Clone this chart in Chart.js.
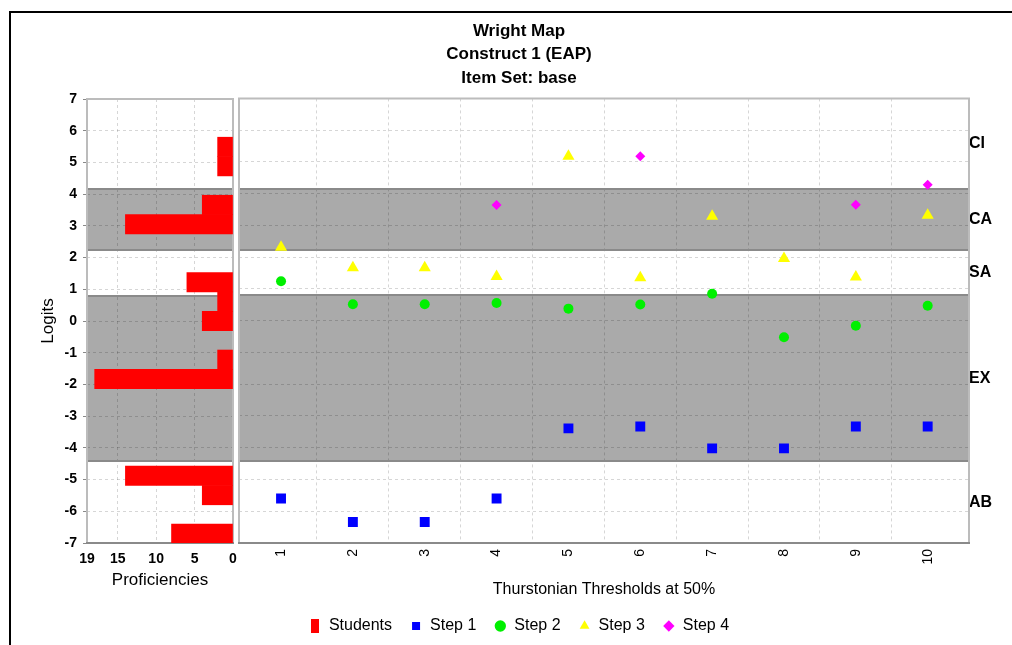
<!DOCTYPE html>
<html>
<head>
<meta charset="utf-8">
<script src="https://cdn.jsdelivr.net/npm/chart.js@4"></script>
<style>
  html, body { margin: 0; padding: 0; background: #fff; overflow: hidden; }
  #wrap { position: relative; width: 1012px; height: 645px; overflow: hidden; }
  #frame { position: absolute; left: 9px; top: 11px; width: 1100px; height: 700px;
           border-left: 2px solid #000; border-top: 2px solid #000; }
  canvas { position: absolute; left: 0; top: 0; }
</style>
</head>
<body>
<div id="wrap">
  <div id="frame"></div>
  <canvas id="mapChart" width="1012" height="645"></canvas>
  <canvas id="histChart" width="1012" height="645"></canvas>
</div>
<script>
// thresholds per item (logits)
const items = [1, 2, 3, 4, 5, 6, 7, 8, 9, 10];
const step1 = [-5.60, -6.34, -6.34, -5.60, -3.39, -3.33, -4.02, -4.02, -3.33, -3.33];
const step2 = [1.24, 0.52, 0.52, 0.56, 0.38, 0.51, 0.85, -0.52, -0.16, 0.47];
const step3 = [2.31, 1.67, 1.67, 1.39, 5.18, 1.35, 3.29, 1.96, 1.38, 3.32];
const step4 = [null, null, null, 3.64, null, 5.18, null, null, 3.65, 4.28];

// student proficiency histogram
const binCenters = [5.49, 4.88, 3.66, 3.05, 1.22, 0.61, 0.00, -1.22, -1.83, -4.88, -5.49, -6.71];
const binCounts = [2, 2, 4, 14, 6, 2, 4, 2, 18, 14, 4, 8];
const proficiencyTicks = [0, 5, 10, 15, 19];

// construct bands, top to bottom
const bandEdges = [7, 4.16, 2.23, 0.80, -4.43, -7];
const bandNames = ['CI', 'CA', 'SA', 'EX', 'AB'];

const titleLines = ['Wright Map', 'Construct 1 (EAP)', 'Item Set: base'];

Chart.defaults.font.family = "'Liberation Sans', Arial, sans-serif";
Chart.defaults.color = '#000';

const gridColor = 'rgba(0,0,0,0.16)';

const bandsPlugin = {
  id: 'bands',
  beforeDraw(chart) {
    const {ctx, chartArea: a} = chart;
    const y = chart.scales.y;
    ctx.save();
    ctx.fillStyle = '#aaaaaa';
    bandNames.forEach((n, i) => {
      if (i % 2 === 0) return;
      const top = y.getPixelForValue(bandEdges[i]);
      const bottom = y.getPixelForValue(bandEdges[i + 1]);
      ctx.fillRect(a.left, top, a.width, bottom - top);
    });
    ctx.restore();
  },
  beforeDatasetsDraw(chart) {
    const {ctx, chartArea: a} = chart;
    const y = chart.scales.y;
    ctx.save();
    ctx.lineWidth = 2;
    ctx.strokeStyle = '#8a8a8a';
    bandEdges.slice(1, -1).forEach(v => {
      const py = Math.round(y.getPixelForValue(v));
      ctx.beginPath();
      ctx.moveTo(a.left, py);
      ctx.lineTo(a.right, py);
      ctx.stroke();
    });
    ctx.strokeStyle = '#bcbcbc';
    ctx.beginPath();
    ctx.moveTo(a.left, a.bottom);
    ctx.lineTo(a.left, a.top);
    ctx.lineTo(a.right, a.top);
    ctx.lineTo(a.right, a.bottom);
    ctx.stroke();
    ctx.strokeStyle = '#8a8a8a';
    ctx.beginPath();
    ctx.moveTo(a.left - 1, a.bottom);
    ctx.lineTo(a.right + 1, a.bottom);
    ctx.stroke();
    ctx.restore();
  }
};

const points = arr => items
  .map((it, i) => ({x: it, y: arr[i]}))
  .filter(p => p.y !== null);

// tall red box for the Students legend entry
const studentIcon = document.createElement('canvas');
studentIcon.width = 8;
studentIcon.height = 14;
studentIcon.getContext('2d').fillStyle = '#ff0000';
studentIcon.getContext('2d').fillRect(0, 0, 8, 14);

new Chart(document.getElementById('mapChart'), {
  type: 'scatter',
  data: {
    datasets: [
      {label: 'Step 1', data: points(step1), yAxisID: 'y', pointStyle: 'rect', radius: 7,
       backgroundColor: '#0000ff', borderWidth: 0},
      {label: 'Step 2', data: points(step2), yAxisID: 'y', pointStyle: 'circle', radius: 5,
       backgroundColor: '#00f000', borderWidth: 0},
      {label: 'Step 3', data: points(step3), yAxisID: 'y', pointStyle: 'triangle', radius: 7,
       backgroundColor: '#ffff00', borderWidth: 0},
      {label: 'Step 4', data: points(step4), yAxisID: 'y', pointStyle: 'rectRot', radius: 5,
       backgroundColor: '#ff00ff', borderWidth: 0}
    ]
  },
  options: {
    responsive: false,
    animation: false,
    layout: {padding: {left: 26, right: 0, top: 0, bottom: 1}},
    plugins: {
      title: {
        display: true, text: titleLines, color: '#000',
        font: {size: 17, weight: 'bold', lineHeight: 1.4},
        padding: {top: 19, bottom: 8}
      },
      legend: {
        position: 'bottom',
        labels: {
          usePointStyle: true, boxHeight: 8, boxWidth: 12, padding: 18,
          font: {size: 16}, color: '#000',
          generateLabels: chart => {
            const base = Chart.defaults.plugins.legend.labels.generateLabels(chart);
            return [{text: 'Students', fillStyle: '#ff0000', strokeStyle: '#ff0000',
                     lineWidth: 0, pointStyle: studentIcon, hidden: false, datasetIndex: -1}]
              .concat(base);
          }
        }
      },
      tooltip: {enabled: false}
    },
    scales: {
      x: {
        type: 'linear', min: 0.415, max: 10.575,
        afterBuildTicks: s => { s.ticks = items.map(v => ({value: v})); },
        ticks: {minRotation: 90, maxRotation: 90, autoSkip: false, padding: 6,
                font: {size: 14}, color: '#000'},
        grid: {offset: true, drawTicks: false,
               color: c => (c.type === 'tick' && c.index > 0) ? gridColor : 'transparent'},
        border: {display: false, dash: [3, 3]},
        title: {display: true, text: 'Thurstonian Thresholds at 50%', font: {size: 16},
                padding: {top: 0, bottom: 1}},
        afterFit: s => { s.height = 57; }
      },
      y: {
        type: 'linear', min: -7, max: 7,
        ticks: {display: false, stepSize: 1},
        grid: {color: gridColor, drawTicks: false},
        border: {display: false, dash: [3, 3]},
        afterFit: s => { s.width = 213; }
      },
      yBand: {
        type: 'linear', position: 'right', min: -7, max: 7,
        afterBuildTicks: s => {
          s.ticks = bandNames.map((n, i) => ({value: (bandEdges[i] + bandEdges[i + 1]) / 2}));
        },
        ticks: {callback: (v, i) => bandNames[i], font: {size: 16, weight: 'bold'},
                padding: 0, autoSkip: false, color: '#000'},
        grid: {display: false, drawTicks: false},
        border: {display: false},
        afterFit: s => { s.width = 43; }
      }
    }
  },
  plugins: [bandsPlugin]
});

new Chart(document.getElementById('histChart'), {
  type: 'bar',
  data: {
    datasets: [{
      label: 'Students',
      data: binCenters.map((c, i) => ({x: binCounts[i], y: c})),
      backgroundColor: '#ff0000',
      borderWidth: 0,
      barPercentage: 1,
      categoryPercentage: 1
    }]
  },
  options: {
    indexAxis: 'y',
    responsive: false,
    animation: false,
    layout: {padding: {left: 0, right: 779, top: 99, bottom: 42}},
    plugins: {legend: {display: false}, tooltip: {enabled: false}},
    scales: {
      x: {
        type: 'linear', reverse: true, min: 0, max: 19,
        afterBuildTicks: s => { s.ticks = proficiencyTicks.map(v => ({value: v})); },
        ticks: {font: {size: 14, weight: 'bold'}, padding: 8, color: '#000'},
        grid: {color: gridColor, drawTicks: false},
        border: {display: false, dash: [3, 3]},
        title: {display: true, text: 'Proficiencies', font: {size: 17},
                padding: {top: 0, bottom: 12}},
        afterFit: s => { s.height = 60; }
      },
      y: {
        type: 'linear', min: -7, max: 7, offset: false,
        ticks: {stepSize: 1, font: {size: 14, weight: 'bold'}, padding: 6, color: '#000'},
        grid: {offset: false, color: gridColor, tickColor: '#888', tickLength: 4},
        border: {display: false, dash: [3, 3]},
        title: {display: true, text: 'Logits', font: {size: 17}, padding: {top: 38}},
        afterFit: s => { s.width = 87; }
      }
    }
  },
  plugins: [bandsPlugin]
});
</script>
</body>
</html>
